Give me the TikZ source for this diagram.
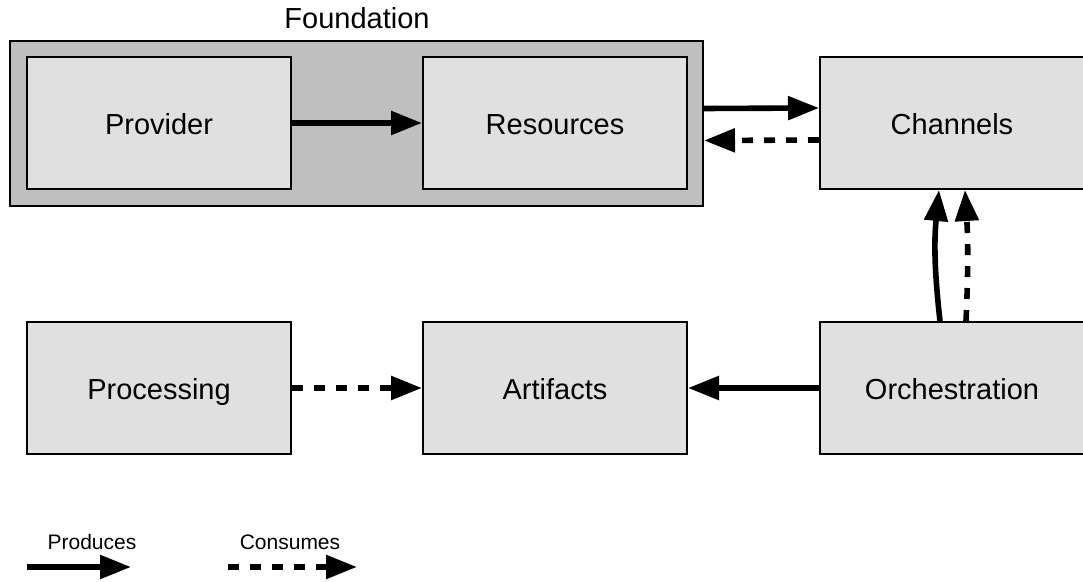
\documentclass[tikz,border=0pt]{standalone}
\usepackage{fontspec}
\setmainfont{Liberation Sans}
\usetikzlibrary{calc}
\usetikzlibrary{arrows.meta}

\begin{document}
\begin{tikzpicture}[x=0.5pt, y=-0.5pt, >={Triangle[length=15.5pt,width=11.5pt]}]
\tikzset{block/.style={draw=black,line width=1pt,fill=black!12,minimum width=132pt,minimum height=66pt,inner sep=0,text height=12pt,text depth=0pt,font=\fontsize{14.5}{16}\selectfont}}
\tikzset{produces/.style={->,line width=2.8pt}}
\tikzset{consumes/.style={->,line width=2.8pt,dash pattern=on 5.5pt off 5.5pt}}

\useasboundingbox (0,0) rectangle (1083,582);

% group box
\node[draw=black,line width=1pt,fill=black!25,minimum width=346.5pt,minimum height=82.5pt,inner sep=0] (foundation) at (356.5,123.5) {};
\node[font=\fontsize{14.5}{16}\selectfont] (foundationlabel) at (357,18) {Foundation};

% blocks
\node[block] (provider) at (159,123) {Provider};
\node[block] (resources) at (555,123) {Resources};
\node[block] (channels) at (952,123) {Channels};
\node[block] (processing) at (159,388) {Processing};
\node[block] (artifacts) at (555,388) {Artifacts};
\node[block] (orchestration) at (952,388) {Orchestration};

% connectors
\draw[produces] (provider) -- (resources);
\draw[produces] ([yshift=7.5pt]foundation.east) -- ([yshift=7.5pt]channels.west);
\draw[consumes] ([yshift=-8.5pt]channels.west) -- ([yshift=-8.5pt]foundation.east);
\draw[produces] ([xshift=-6pt]orchestration.north) to[bend left=6] ([xshift=-6.5pt]channels.south);
\draw[consumes] ([xshift=7pt]orchestration.north) to[bend right=3] ([xshift=6.5pt]channels.south);
\draw[consumes] (processing) -- (artifacts);
\draw[produces] (orchestration) -- (artifacts);

% legend
\coordinate (p1) at (27,567);
\coordinate (p2) at (131,567);
\coordinate (c1) at (228,567);
\coordinate (c2) at (357,567);
\node[font=\fontsize{10.5}{12}\selectfont] (producestext) at (92,542) {Produces};
\node[font=\fontsize{10.5}{12}\selectfont] (consumestext) at (290,542) {Consumes};
\draw[produces] (p1) -- (p2);
\draw[consumes] (c1) -- (c2);

\end{tikzpicture}
\end{document}
